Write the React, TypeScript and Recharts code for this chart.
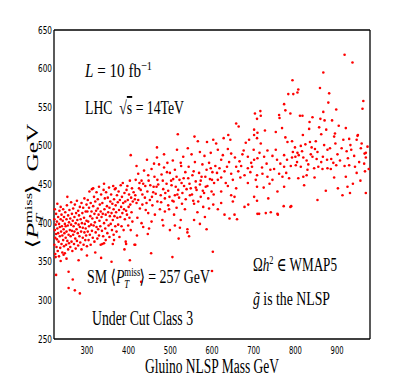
import React from 'react';
import { ScatterChart, Scatter, XAxis, YAxis } from 'recharts';

// gluino mass (GeV) vs mean missing pT (GeV)
const lowMass: [number, number][] = [
  [222,405],[222,372],[223,391],[223,418],[224,381],[224,360],[225,398],[226,386],[226,412],[227,369],
  [228,402],[228,379],[229,425],[229,393],[230,364],[231,387],[231,408],[232,376],[233,399],[233,357],
  [234,416],[235,383],[235,395],[236,368],[237,405],[237,421],[238,389],[239,373],[239,411],[240,396],
  [241,362],[241,384],[242,403],[243,418],[243,378],[244,392],[245,370],[245,408],[246,387],[247,399],
  [247,361],[248,414],[249,381],[249,396],[250,372],[251,405],[251,389],[252,423],[253,434],[253,377],
  [254,397],[255,366],[255,410],[256,385],[257,401],[257,374],[258,417],[259,391],[260,369],[260,406],
  [261,383],[262,398],[262,427],[263,376],[264,412],[264,390],[265,364],[266,403],[267,385],[267,419],
  [268,396],[269,373],[270,408],[270,389],[271,424],[272,380],[273,400],[273,367],[274,413],[275,392],
  [276,429],[276,377],[277,404],[278,387],[279,416],[279,371],[280,398],[281,410],[282,383],[283,421],
  [283,395],[284,375],[285,405],[286,389],[287,426],[287,366],[288,400],[289,413],[290,381],[290,394],
  [291,420],[292,372],[293,407],[294,388],[294,432],[295,399],[296,378],[297,415],[297,393],[298,384],
  [299,424],[299,403],[300,370],
];

const midLowMass: [number, number][] = [
  [301,415],[302,389],[302,430],[303,402],[304,378],[305,420],[305,396],[306,441],[307,385],[308,409],
  [309,372],[309,426],[310,398],[311,415],[312,444],[312,390],[313,406],[314,381],[315,445],[315,422],
  [316,397],[317,434],[318,412],[318,376],[319,401],[320,428],[321,388],[322,416],[323,440],[323,395],
  [324,407],[325,380],[326,431],[326,419],[327,392],[328,411],[329,447],[329,384],[330,403],[331,424],
  [332,396],[333,415],[333,372],[334,437],[335,408],[336,390],[337,426],[338,412],[339,383],[340,443],
  [341,451],[341,400],[342,418],[343,432],[344,393],[345,411],[345,378],[346,440],[347,404],[348,422],
  [349,387],[350,433],[351,414],[352,397],[353,446],[354,420],[354,382],[355,409],[356,428],[357,399],
  [358,437],[359,413],[360,391],[361,425],[362,404],[363,448],[364,418],[364,385],[365,431],[366,409],
  [367,444],[368,396],[369,423],[369,445],[370,414],[371,389],[372,436],[373,407],[374,427],[375,398],
  [376,441],[377,417],[378,382],[379,430],[380,408],[381,449],[382,421],[383,396],[384,434],[385,413],
  [386,452],[387,426],[388,391],[389,418],[390,439],[391,405],[392,428],[393,376],[394,416],[395,443],
  [396,411],[397,448],[398,430],[399,397],[400,421],[401,437],[402,407],[403,455],[404,424],[405,488],
  [405,391],[406,433],[407,414],[408,445],[409,402],[410,428],
];

const midMass: [number, number][] = [
  [518,515],[468,498],[516,495],[542,497],[558,512],[566,506],[588,505],[603,508],[571,492],[506,481],
  [493,478],[461,477],[419,474],[444,482],[531,486],[551,489],[582,487],[597,491],[559,479],[544,473],
  [526,474],[511,469],[485,472],[473,476],[455,470],[437,468],[423,464],[577,476],[593,478],[601,466],
  [587,469],[569,465],[553,462],[536,466],[515,460],[499,465],[479,463],[462,460],[447,462],[431,455],
  [417,456],[595,457],[575,460],[561,454],[543,458],[527,452],[507,457],[491,451],[469,456],[452,449],
  [435,451],[425,445],[605,452],[585,447],[571,450],[549,445],[533,448],[519,443],[503,449],[483,444],
  [467,447],[445,441],[429,443],[416,436],[599,441],[581,439],[563,443],[547,436],[529,439],[511,436],
  [495,442],[477,436],[459,440],[439,433],[423,430],[591,432],[573,434],[555,429],[537,431],[521,433],
  [505,429],[487,432],[469,428],[451,430],[433,424],[419,426],[603,424],[579,421],[557,425],[515,420],
  [495,423],[475,418],[457,423],[441,417],[427,419],[565,414],[535,418],[509,411],[487,415],[463,411],
  [447,413],[421,407],[557,404],[583,408],[525,404],[497,418],[481,404],[455,402],[431,400],[435,395],
  [449,393],[511,397],[523,394],[541,392],[571,399],[587,392],[541,388],[545,383],[499,391],[483,397],
  [446,386],[420,384],[414,372],
  [412,440],[415,431],[426,452],[433,437],[440,448],[443,426],[448,455],[456,434],[460,447],[465,438],
  [471,450],[478,427],[482,455],[488,439],[492,466],[498,434],[502,455],[508,428],[513,447],[517,437],
  [522,456],[528,425],[532,458],[539,444],[546,451],[552,437],[556,467],[561,446],[567,428],[573,455],
  [578,442],[584,460],[589,448],[593,419],[597,471],[600,456],[604,437],[468,485],[485,489],[525,478],
];

const upperMass: [number, number][] = [
  [793,585],[783,567],[795,567],[773,554],[776,546],[788,542],[761,540],[762,536],[703,542],[716,545],
  [717,539],[708,535],[658,529],[664,525],[768,523],[753,518],[727,520],[701,521],[709,517],[701,514],
  [639,514],[628,510],[644,508],[689,508],[708,510],[681,504],[776,511],[792,506],[781,505],[717,503],
  [700,495],[676,494],[733,494],[753,495],[610,503],[614,495],[638,496],[646,490],[655,485],[686,486],
  [709,484],[725,486],[745,487],[773,488],[792,485],[622,482],[666,480],[701,482],[756,482],[780,482],
  [608,474],[636,473],[618,471],[658,473],[670,474],[686,471],[696,473],[720,472],[740,469],[773,473],
  [789,474],[630,467],[646,464],[663,467],[678,462],[708,462],[721,464],[733,460],[761,464],[769,460],
  [622,459],[614,456],[650,456],[686,452],[705,456],[745,456],[785,458],[638,448],[658,445],[708,447],
  [724,446],[757,441],[773,447],[622,441],[646,436],[654,434],[650,428],[622,426],[678,421],[687,424],
  [701,434],[735,432],[772,422],[788,421],[614,418],[630,411],[654,411],[642,406],[709,412],[713,412],
  [729,413],[757,412],[741,414],[660,405],[708,429],[758,411],[790,422],
  [612,465],[626,488],[633,452],[641,479],[668,459],[673,489],[692,466],[694,478],[714,491],[731,477],
  [738,451],[749,470],[764,477],[778,465],[794,492],
];

const highMass: [number, number][] = [
  [918,618],[937,608],[867,595],[859,575],[881,568],[807,573],[805,569],[963,558],[961,548],[879,556],
  [898,547],[867,544],[811,539],[817,539],[834,531],[860,535],[870,533],[888,533],[904,526],[921,523],
  [841,537],[818,514],[833,522],[857,524],[874,521],[893,512],[862,515],[949,513],[929,509],[835,505],
  [813,500],[839,498],[847,496],[799,498],[805,491],[819,485],[841,486],[851,483],[866,486],[877,495],
  [886,483],[901,489],[915,508],[923,493],[934,495],[947,508],[957,497],[969,491],[969,485],[800,486],
  [808,488],[827,481],[855,473],[877,471],[898,475],[918,474],[929,475],[943,473],[965,477],[801,475],
  [813,473],[829,469],[827,462],[845,471],[865,470],[885,470],[921,460],[947,465],[967,467],[819,460],
  [821,449],[873,442],[913,436],[931,439],[969,439],[938,451],[902,445],[853,430],[807,458],[925,447],
  [895,516],[950,514],[966,490],[804,479],[816,493],[824,502],[831,476],[837,489],[849,506],[853,492],
  [862,479],[869,501],[876,482],[883,497],[891,478],[896,503],[907,481],[911,497],[926,484],[932,501],
  [941,487],[953,479],[959,503],[973,499],[976,470],[846,459],[893,459],[956,455],
];

const lowOutliers: [number, number][] = [
  [226,333],[225,356],[251,354],[256,337],[266,327],[256,316],[271,313],[283,309],[280,352],[237,351],
  [244,359],[334,355],[337,373],[341,374],[359,350],[365,378],[362,373],[394,373],[416,372],[403,352],
  [430,324],[454,361],[505,356],[602,363],[600,338],[320,362],[300,358],[390,366],[520,380],
];

const xTicks = [300, 400, 500, 600, 700, 800, 900];
const yTicks = [250, 300, 350, 400, 450, 500, 550, 600, 650];

const points = [...lowMass, ...midLowMass, ...midMass, ...upperMass, ...highMass, ...lowOutliers]
  .map(([mass, pt]) => ({ mass, pt }));

const X_DOMAIN: [number, number] = [221, 979];
const Y_DOMAIN: [number, number] = [250, 650];
const tickFont = '"Liberation Sans Narrow", "DejaVu Sans Condensed", sans-serif';
const serif = '"Liberation Serif", "DejaVu Serif", serif';
const axisStroke = { stroke: '#000', strokeWidth: 1.3 };
const txt = { fontFamily: serif, fill: '#000' };

const XTick = (props: any) => (
  <text x={props.x} y={props.y + 13} textAnchor="middle" fontSize={10} fontFamily={tickFont}
    fill="#000" textLength={13} lengthAdjust="spacingAndGlyphs">
    {props.payload.value}
  </text>
);

const YTick = (props: any) => (
  <text x={props.x} y={props.y + 3.5} textAnchor="end" fontSize={10} fontFamily={tickFont}
    fill="#000" textLength={14} lengthAdjust="spacingAndGlyphs">
    {props.payload.value}
  </text>
);

const Dot = (props: any) => <circle cx={props.cx} cy={props.cy} r={1.3} fill="#ff0000" />;

export default function App() {
  return (
    <div style={{ position: 'absolute', left: 0, top: 0, width: 409, height: 382, background: '#fff' }}>
      <ScatterChart width={409} height={382} margin={{ top: 30, right: 39, bottom: 13, left: 24 }}>
        <XAxis xAxisId="b" type="number" dataKey="mass" domain={X_DOMAIN} ticks={xTicks} interval={0}
          height={30} tickLine={false} tickSize={0} axisLine={axisStroke} tick={(p: any) => <XTick {...p} />} />
        <XAxis xAxisId="bi" type="number" domain={X_DOMAIN} ticks={xTicks} interval={0} mirror
          orientation="bottom" tick={false} axisLine={false} tickSize={4} tickLine={axisStroke} />
        <XAxis xAxisId="t" type="number" domain={X_DOMAIN} ticks={xTicks} interval={0} mirror
          orientation="top" tick={false} axisLine={axisStroke} tickSize={4} tickLine={axisStroke} />
        <YAxis yAxisId="l" type="number" dataKey="pt" domain={Y_DOMAIN} ticks={yTicks} interval={0}
          width={30} tickLine={false} tickSize={0} axisLine={axisStroke} tick={(p: any) => <YTick {...p} />} />
        <YAxis yAxisId="li" type="number" domain={Y_DOMAIN} ticks={yTicks} interval={0} mirror
          orientation="left" tick={false} axisLine={false} tickSize={4} tickLine={axisStroke} />
        <YAxis yAxisId="r" type="number" domain={Y_DOMAIN} ticks={yTicks} interval={0} mirror
          orientation="right" tick={false} axisLine={axisStroke} tickSize={4} tickLine={axisStroke} />
        <Scatter xAxisId="b" yAxisId="l" data={points} isAnimationActive={false} shape={Dot} />
      </ScatterChart>

      <svg width={409} height={382} style={{ position: 'absolute', left: 0, top: 0, pointerEvents: 'none' }}>
        <text x={85} y={77} fontSize={19} style={txt} textLength={67} lengthAdjust="spacingAndGlyphs">
          <tspan fontStyle="italic">L</tspan> = 10 fb<tspan dy={-7} fontSize={13}>−1</tspan>
        </text>
        <text x={85} y={114} fontSize={19} style={txt} textLength={99} lengthAdjust="spacingAndGlyphs">
          LHC{'\u00a0\u00a0'}√<tspan style={{ textDecoration: 'overline' }}>s</tspan> = 14TeV
        </text>
        <text x={87} y={283} fontSize={19} style={txt} textLength={123} lengthAdjust="spacingAndGlyphs">
          SM ⟨<tspan fontStyle="italic">P</tspan>
          <tspan dy={-7} fontSize={12}>miss</tspan>
          <tspan dx={-22} dy={12} fontSize={12} fontStyle="italic">T</tspan>
          <tspan dx={14} dy={-5}>⟩ = 257 GeV</tspan>
        </text>
        <text x={92} y={325} fontSize={20} style={txt} textLength={101} lengthAdjust="spacingAndGlyphs">
          Under Cut Class 3
        </text>
        <text x={253} y={271} fontSize={19} style={txt} textLength={84} lengthAdjust="spacingAndGlyphs">
          Ω<tspan fontStyle="italic">h</tspan><tspan dy={-7} fontSize={12}>2</tspan>
          <tspan dy={7}> ∈ WMAP5</tspan>
        </text>
        <text x={253} y={305} fontSize={19} style={txt} textLength={77} lengthAdjust="spacingAndGlyphs">
          <tspan fontStyle="italic">g̃</tspan> is the NLSP
        </text>
        <text x={145} y={373} fontSize={20} style={txt} textLength={134} lengthAdjust="spacingAndGlyphs">
          Gluino NLSP Mass GeV
        </text>
        <g transform="translate(38,186) rotate(-90)">
          <text x={0} y={0} fontSize={17} style={txt} textAnchor="middle" textLength={125}
            lengthAdjust="spacingAndGlyphs">
            ⟨<tspan fontStyle="italic">P</tspan>
            <tspan dy={-6} fontSize={11}>miss</tspan>
            <tspan dx={-20} dy={11} fontSize={11} fontStyle="italic">T</tspan>
            <tspan dx={13} dy={-5}>⟩{'\u00a0\u00a0'}GeV</tspan>
          </text>
        </g>
      </svg>
    </div>
  );
}
